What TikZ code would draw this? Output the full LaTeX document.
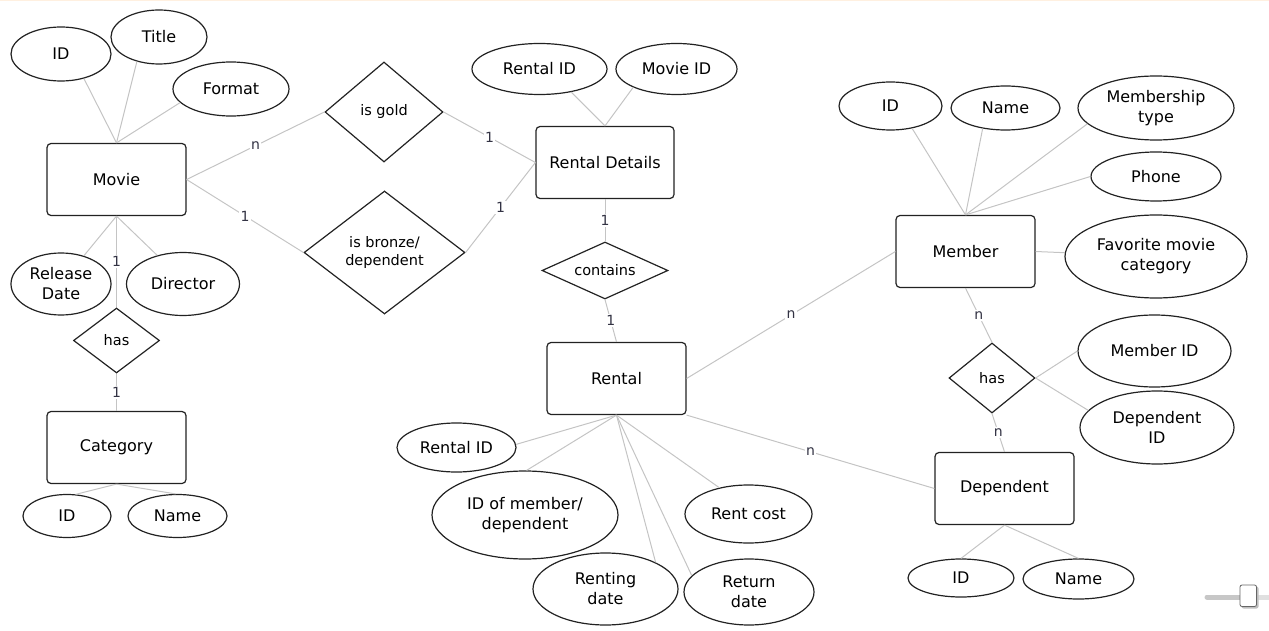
\documentclass[tikz,border=0pt]{standalone}
\usepackage{fontspec}
\setmainfont{DejaVu Sans}
\usetikzlibrary{shapes.geometric}
\definecolor{edgegray}{HTML}{C4C4C4}
\definecolor{shapeline}{HTML}{222222}
\definecolor{cardtext}{HTML}{333344}
\tikzset{
  ent/.style={draw=shapeline, line width=1.2pt, rounded corners=4pt, minimum width=139pt, minimum height=72pt, inner sep=0pt, font=\fontsize{16}{20}\selectfont, align=center},
  attr/.style={draw=shapeline, line width=1.2pt, ellipse, inner sep=0pt, font=\fontsize{16}{20}\selectfont, align=center},
  rel/.style={draw=shapeline, line width=1.2pt, diamond, inner sep=0pt},
  reltext/.style={font=\fontsize{14.5}{18}\selectfont, align=center, inner sep=0pt},
  conn/.style={draw=edgegray, line width=1pt},
  card/.style={fill=white, text=cardtext, font=\fontsize{14}{16}\selectfont, inner sep=1.5pt, pos=0.5},
}
\begin{document}
\begin{tikzpicture}[x=1pt,y=-1pt]
\useasboundingbox (0,0) rectangle (1269,631);
\fill[orange!12] (0,0) rectangle (1269,1.5);

% ---------- Movie cluster ----------
\node[ent] (movie) at (116.5,179.5) {Movie};
\node[attr, minimum width=100pt, minimum height=54pt] (mid) at (61,54) {ID};
\node[attr, minimum width=96pt, minimum height=54pt] (mtitle) at (159,37) {Title};
\node[attr, minimum width=116pt, minimum height=54pt] (mformat) at (231,89) {Format};
\node[attr, minimum width=100pt, minimum height=62pt] (mrelease) at (61,284) {Release\\Date};
\node[attr, minimum width=113pt, minimum height=63pt] (mdirector) at (183,284) {Director};
\node[rel, minimum width=86pt, minimum height=65pt, label={[reltext]center:has}] (has1) at (116.5,340.5) {};
\node[ent] (category) at (116.5,447.5) {Category};
\node[attr, minimum width=88pt, minimum height=43pt] (cid) at (67,516) {ID};
\node[attr, minimum width=99pt, minimum height=43pt] (cname) at (177.5,516) {Name};

% ---------- relationships to Rental Details ----------
\node[rel, minimum width=118pt, minimum height=100pt, label={[reltext]center:is gold}] (isgold) at (384,112) {};
\node[rel, minimum width=161pt, minimum height=123pt, label={[reltext]center:is bronze/\\dependent}] (isbronze) at (384.5,252.5) {};
\node[ent, minimum width=138pt] (rd) at (605,162.5) {Rental Details};
\node[attr, minimum width=135pt, minimum height=51pt] (rdrid) at (539.5,69) {Rental ID};
\node[attr, minimum width=121pt, minimum height=51pt] (rdmid) at (676.5,69) {Movie ID};
\node[rel, minimum width=126pt, minimum height=57pt, label={[reltext]center:contains}] (contains) at (605,270.5) {};

% ---------- Rental ----------
\node[ent] (rental) at (616.5,378.5) {Rental};
\node[attr, minimum width=119pt, minimum height=49pt] (rrid) at (456.5,447.5) {Rental ID};
\node[attr, minimum width=186pt, minimum height=88pt] (rmem) at (525,515) {ID of member/\\dependent};
\node[attr, minimum width=145pt, minimum height=72pt] (rrent) at (605.5,589) {Renting\\date};
\node[attr, minimum width=130pt, minimum height=66pt] (rret) at (749,592) {Return\\date};
\node[attr, minimum width=127pt, minimum height=58pt] (rcost) at (748.5,514) {Rent cost};

% ---------- Member ----------
\node[ent] (member) at (965.5,251.5) {Member};
\node[attr, minimum width=103pt, minimum height=48pt] (memid) at (890.5,106) {ID};
\node[attr, minimum width=109pt, minimum height=44pt] (memname) at (1005.5,108) {Name};
\node[attr, minimum width=156pt, minimum height=64pt] (memtype) at (1156,108) {Membership\\type};
\node[attr, minimum width=130pt, minimum height=49pt] (memphone) at (1156,176.5) {Phone};
\node[attr, minimum width=182pt, minimum height=83pt] (memfav) at (1156,256.5) {Favorite movie\\category};
\node[rel, minimum width=86pt, minimum height=70pt, label={[reltext]center:has}] (has2) at (992,378) {};
\node[attr, minimum width=153pt, minimum height=72pt] (hmid) at (1154.5,351) {Member ID};
\node[attr, minimum width=154pt, minimum height=73pt] (hdid) at (1157,427.5) {Dependent\\ID};

% ---------- Dependent ----------
\node[ent] (dependent) at (1004.5,488.5) {Dependent};
\node[attr, minimum width=106pt, minimum height=38pt] (did) at (961,578) {ID};
\node[attr, minimum width=111pt, minimum height=40pt] (dname) at (1078.5,579) {Name};

% ---------- connectors ----------
\draw[conn] (movie.north) -- (mid.313);
\draw[conn] (movie.north) -- (mtitle.228);
\draw[conn] (movie.north) -- (mformat.195);
\draw[conn] (movie.south) -- (mrelease.51);
\draw[conn] (movie.south) -- (mdirector.132);
\draw[conn] (movie.south) -- node[card]{1} (has1.north);
\draw[conn] (has1.south) -- node[card]{1} (category.north);
\draw[conn] (category.south) -- (cid.68);
\draw[conn] (category.south) -- (cname.95);

\draw[conn] (movie.east) -- node[card]{n} (isgold.west);
\draw[conn] (movie.east) -- node[card]{1} (isbronze.west);
\draw[conn] (isgold.east) -- node[card]{1} (rd.west);
\draw[conn] (isbronze.east) -- node[card]{1} (rd.west);
\draw[conn] (rd.north) -- (rdrid.324);
\draw[conn] (rd.north) -- (rdmid.203);
\draw[conn] (rd.south) -- node[card]{1} (contains.north);
\draw[conn] (contains.south) -- node[card]{1} (rental.north);

\draw[conn] (rental.south) -- (rrid.3);
\draw[conn] (rental.south) -- (rmem.88);
\draw[conn] (rental.south) -- (rrent.28);
\draw[conn] (rental.south) -- (rret.164);
\draw[conn] (rental.south) -- (rcost.138);
\draw[conn] (rental.east) -- node[card]{n} (member.west);
\draw[conn] (rental.south east) -- node[card]{n} (dependent.west);

\draw[conn] (member.north) -- (memid.314);
\draw[conn] (member.north) -- (memname.222);
\draw[conn] (member.north) -- (memtype.193);
\draw[conn] (member.north) -- (memphone.180);
\draw[conn] (member.east) -- (memfav);
\draw[conn] (member.south) -- node[card]{n} (has2.north);
\draw[conn] (has2.south) -- node[card]{n} (dependent.north);
\draw[conn] (has2.east) -- (hmid.180);
\draw[conn] (has2.east) -- (hdid.166);
\draw[conn] (dependent.south) -- (did.90);
\draw[conn] (dependent.south) -- (dname.90);

% ---------- zoom slider ----------
\draw[line width=5pt, color=black!12] (1248,597) -- (1269,597);
\draw[line width=5pt, color=black!22, line cap=round] (1207,597) -- (1248,597);
\fill[black!25, rounded corners=2pt] (1241.5,586.5) rectangle (1258.5,608.5);
\draw[fill=white, draw=black!60, line width=0.8pt, rounded corners=2pt] (1240,585) rectangle (1256.5,606.5);
\end{tikzpicture}
\end{document}
